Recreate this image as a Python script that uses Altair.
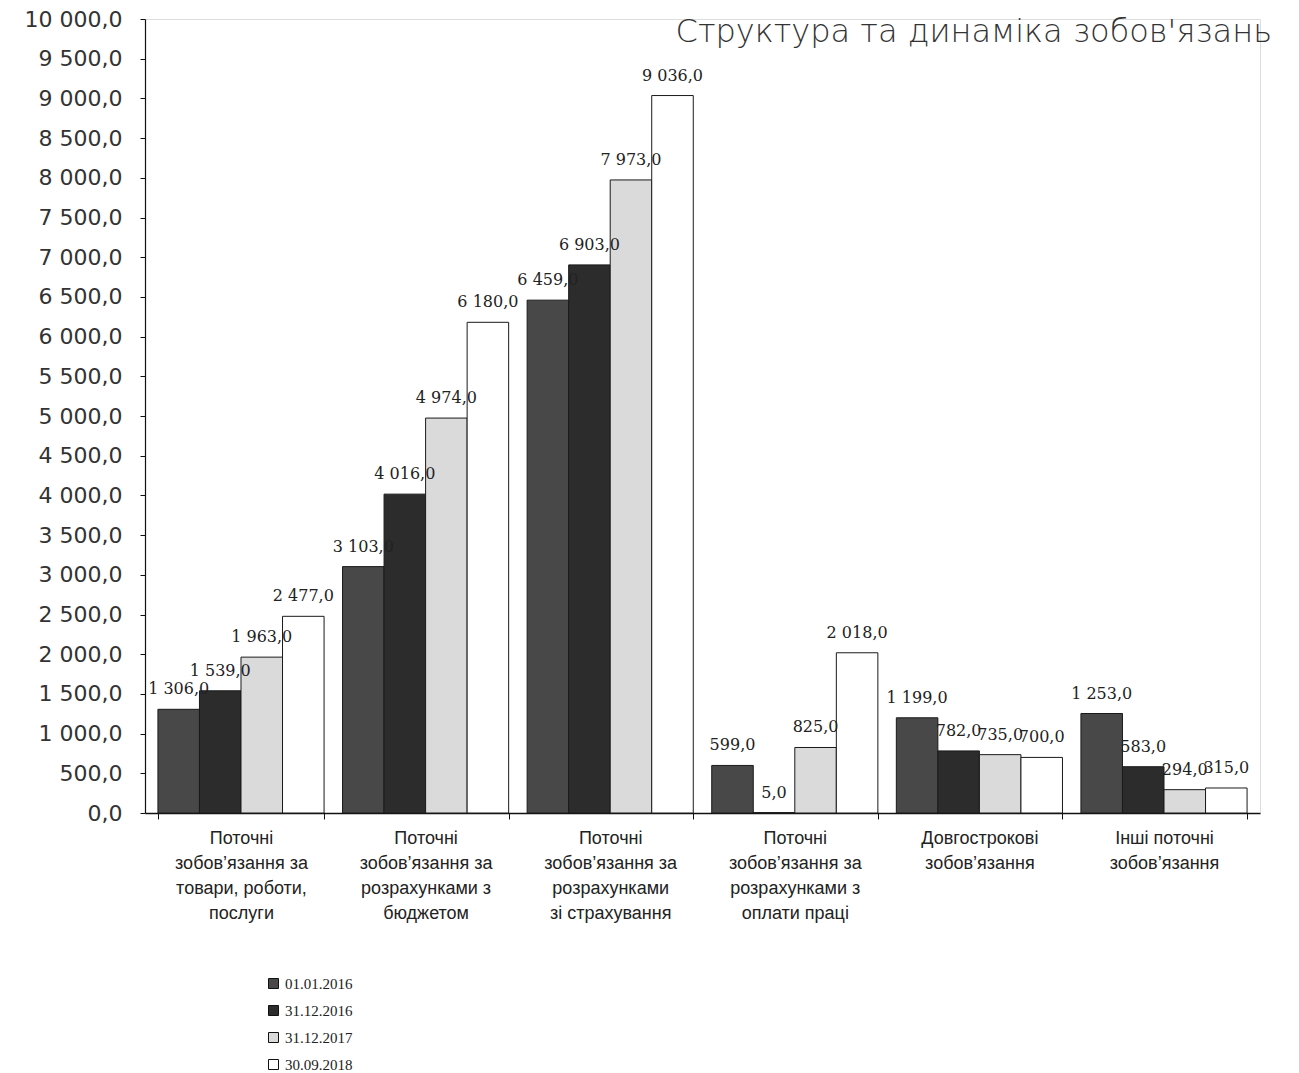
import altair as alt
import pandas as pd

categories = [
    "Поточні|зобов’язання за|товари, роботи,|послуги",
    "Поточні|зобов’язання за|розрахунками з|бюджетом",
    "Поточні|зобов’язання за|розрахунками|зі страхування",
    "Поточні|зобов’язання за|розрахунками з|оплати праці",
    "Довгострокові|зобов’язання",
    "Інші поточні|зобов’язання",
]
series = ["01.01.2016", "31.12.2016", "31.12.2017", "30.09.2018"]
v_01_01_2016 = [1306.0, 3103.0, 6459.0, 599.0, 1199.0, 1253.0]
v_31_12_2016 = [1539.0, 4016.0, 6903.0, 5.0, 782.0, 583.0]
v_31_12_2017 = [1963.0, 4974.0, 7973.0, 825.0, 735.0, 294.0]
v_30_09_2018 = [2477.0, 6180.0, 9036.0, 2018.0, 700.0, 315.0]
y_ticks = [0, 500, 1000, 1500, 2000, 2500, 3000, 3500, 4000, 4500, 5000,
           5500, 6000, 6500, 7000, 7500, 8000, 8500, 9000, 9500, 10000]
colors = ["#484848", "#2c2c2c", "#dadada", "#ffffff"]
title_text = "Структура та динаміка зобов'язань"

rows = []
for s, vals in zip(series, [v_01_01_2016, v_31_12_2016, v_31_12_2017, v_30_09_2018]):
    for c, v in zip(categories, vals):
        rows.append({"cat": c, "series": s, "value": v})
df = pd.DataFrame(rows)

x = alt.X(
    "cat:N", sort=categories,
    scale=alt.Scale(paddingInner=0.1, paddingOuter=0.07),
    axis=alt.Axis(
        title=None, labelAngle=0, labelExpr="split(datum.label, '|')",
        tickBand="extent", tickSize=6, tickColor="#111", domainColor="#111",
        domainWidth=1.5, labelFont="Liberation Sans", labelFontSize=18,
        labelLineHeight=25, labelPadding=10, labelColor="#222",
        labelLimit=400, labelOverlap=False, grid=False,
    ),
)
xo = alt.XOffset("series:N", sort=series, scale=alt.Scale(paddingInner=0, paddingOuter=0))
y = alt.Y(
    "value:Q",
    scale=alt.Scale(domain=[0, 10000], nice=False),
    axis=alt.Axis(
        title=None, values=y_ticks, format=",.1f", grid=False,
        tickSize=5, tickColor="#111", domainColor="#111", domainWidth=1.2,
        labelFont="DejaVu Sans", labelFontSize=22, labelColor="#333",
        labelPadding=18,
    ),
)

base = alt.Chart(df)
bars = base.mark_bar(stroke="#1a1a1a", strokeWidth=1).encode(
    x=x, xOffset=xo, y=y,
    color=alt.Color(
        "series:N", sort=series,
        scale=alt.Scale(domain=series, range=colors),
        legend=alt.Legend(
            title=None, orient="none", legendX=121, legendY=957,
            symbolType="square", symbolSize=100, symbolStrokeColor="#111",
            symbolStrokeWidth=1, labelFont="Liberation Serif", labelFontSize=15,
            labelColor="#222", rowPadding=11,
        ),
    ),
)
labels = base.mark_text(
    baseline="bottom", dy=-12, font="DejaVu Serif", fontSize=16, color="#222"
).encode(
    x=x, xOffset=xo, y=y,
    text=alt.Text("value:Q", format=",.1f"),
)

chart = (
    alt.layer(bars, labels)
    .properties(
        width=1115, height=794,
        padding={"left": 16, "top": 0, "right": 5, "bottom": 5},
        title=alt.TitleParams(
            title_text, anchor="end", frame="group", offset=-41, dx=12,
            fontSize=32, font="DejaVu Sans", fontWeight=300, color="#333",
        ),
    )
    .configure_view(stroke=None)
    .configure(locale={"number": {"decimal": ",", "thousands": " ",
                                  "grouping": [3], "currency": ["", ""]}})
)

chart.save("out.html", embed_options={"renderer": "svg", "actions": False})
